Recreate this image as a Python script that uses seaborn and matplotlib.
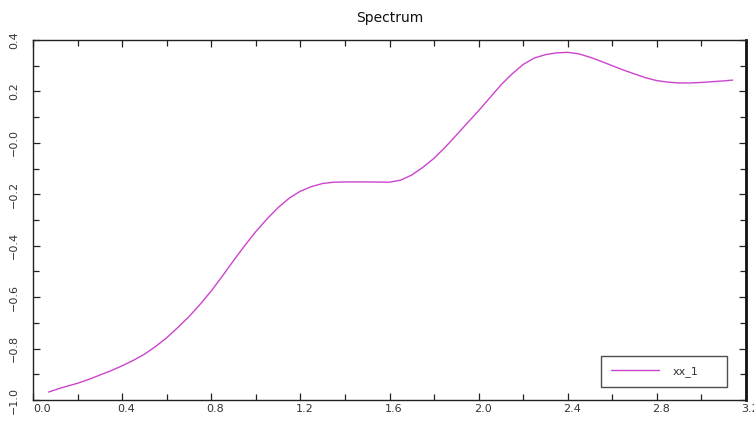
import matplotlib
matplotlib.use("Agg")
import matplotlib.pyplot as plt
import matplotlib.transforms as mtransforms
from matplotlib.ticker import MultipleLocator
import pandas as pd
import seaborn as sns

# Spectrum samples
freq = [0.07, 0.13, 0.2, 0.25, 0.3, 0.35, 0.4, 0.45, 0.5, 0.55, 0.6, 0.65,
        0.7, 0.75, 0.8, 0.85, 0.9, 0.95, 1.0, 1.05, 1.1, 1.15, 1.2, 1.25,
        1.3, 1.35, 1.4, 1.5, 1.6, 1.65, 1.7, 1.75, 1.8, 1.85, 1.9, 1.95,
        2.0, 2.05, 2.1, 2.15, 2.2, 2.25, 2.3, 2.35, 2.4, 2.45, 2.5, 2.55,
        2.6, 2.65, 2.7, 2.75, 2.8, 2.85, 2.9, 2.95, 3.0, 3.1, 3.14]
amplitude = [-0.969, -0.952, -0.935, -0.920, -0.903, -0.886, -0.867, -0.846,
             -0.822, -0.792, -0.758, -0.718, -0.676, -0.628, -0.576, -0.518,
             -0.458, -0.400, -0.345, -0.296, -0.252, -0.215, -0.188, -0.170,
             -0.158, -0.153, -0.152, -0.152, -0.153, -0.145, -0.125, -0.095,
             -0.060, -0.017, 0.030, 0.078, 0.125, 0.175, 0.225, 0.268, 0.305,
             0.330, 0.343, 0.350, 0.352, 0.346, 0.333, 0.317, 0.300, 0.283,
             0.268, 0.253, 0.242, 0.236, 0.233, 0.233, 0.235, 0.241, 0.244]
series_name = "xx_1"

x_ticks = [0.0, 0.4, 0.8, 1.2, 1.6, 2.0, 2.4, 2.8, 3.2]
x_tick_labels = ["0.0", "0.4", "0.8", "1.2", "1.6", "2.0", "2.4", "2.8", "3.2"]
y_ticks = [-1.0, -0.8, -0.6, -0.4, -0.2, 0.0, 0.2, 0.4]
y_tick_labels = ["\u22121.0", "\u22120.8", "\u22120.6", "\u22120.4",
                 "\u22120.2", "\u22120.0", "0.2", "0.4"]

df = pd.DataFrame({"freq": freq, "amplitude": amplitude, "series": series_name})

sns.set_style("white")
plt.rcParams["font.family"] = ["DejaVu Sans"]

fig = plt.figure(figsize=(7.54, 4.23), dpi=100)
ax = fig.add_axes([33 / 754, 1 - 400 / 423, 713 / 754, 360 / 423])

sns.lineplot(data=df, x="freq", y="amplitude", hue="series",
             palette=["#cc44cc"], linewidth=1.0, ax=ax)

ax.set_xlim(0.0, 3.2)
ax.set_ylim(-1.0, 0.4)
ax.set_xlabel("")
ax.set_ylabel("")
ax.set_title("Spectrum", fontsize=10, pad=13, color="#111111")

ax.set_xticks(x_ticks)
ax.set_xticklabels(x_tick_labels, fontsize=8, color="#333333")
ax.set_yticks(y_ticks)
ax.set_yticklabels(y_tick_labels, fontsize=8, color="#333333",
                   rotation=90, va="center")
ax.xaxis.set_minor_locator(MultipleLocator(0.2))
ax.yaxis.set_minor_locator(MultipleLocator(0.1))

ax.tick_params(which="both", direction="in", top=True, right=True,
               bottom=True, left=True, color="#222222", width=0.9)
ax.tick_params(which="major", length=5)
ax.tick_params(which="minor", length=4)
ax.tick_params(axis="x", which="major", pad=3)
ax.tick_params(axis="y", which="major", pad=10)

# shift x tick labels slightly right
shift = mtransforms.ScaledTranslation(4 / 100, 0, fig.dpi_scale_trans)
for i, lab in enumerate(ax.get_xticklabels()):
    extra = mtransforms.ScaledTranslation(5 / 100, 0, fig.dpi_scale_trans) if i == 0 else mtransforms.Affine2D()
    lab.set_transform(lab.get_transform() + shift + extra)

for side in ["left", "bottom", "top"]:
    ax.spines[side].set_visible(True)
    ax.spines[side].set_color("#222222")
    ax.spines[side].set_linewidth(1.0)
ax.spines["right"].set_visible(True)
ax.spines["right"].set_color("#111111")
ax.spines["right"].set_linewidth(2.0)

leg = ax.legend(loc="lower left",
                bbox_to_anchor=(0.797, 0.036, 0.176, 0.097),
                mode="expand", frameon=True, fancybox=False,
                edgecolor="#222222", fontsize=8, handlelength=4.3,
                handletextpad=1.2, borderaxespad=0, borderpad=0.9)
leg.get_frame().set_linewidth(1.0)
for t in leg.get_texts():
    t.set_color("#333333")

fig.savefig("out.png", dpi=100)
